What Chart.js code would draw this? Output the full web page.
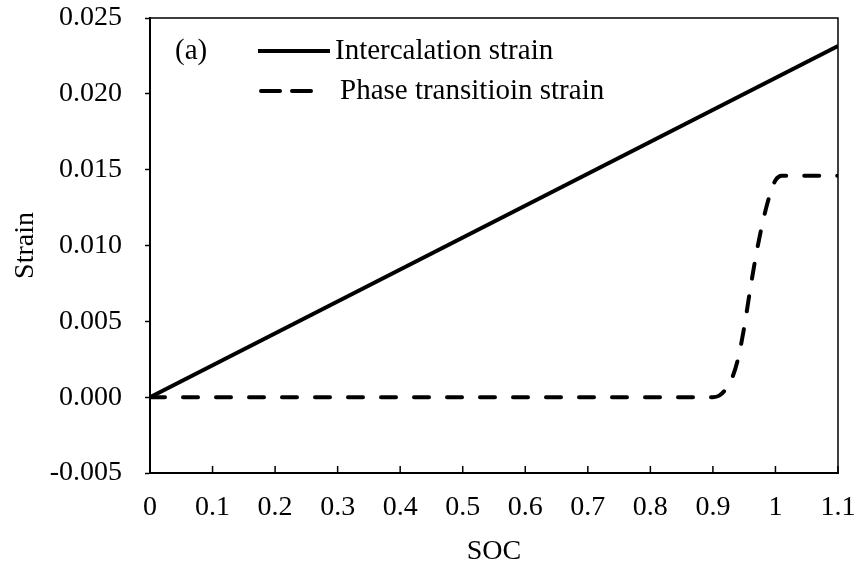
<!DOCTYPE html>
<html>
<head>
<meta charset="utf-8">
<script src="https://cdn.jsdelivr.net/npm/chart.js@4.4.1/dist/chart.umd.min.js"></script>
<style>
  html, body { margin: 0; padding: 0; background: #fff; }
  #wrap { width: 860px; height: 573px; }
</style>
</head>
<body>
<div id="wrap"><canvas id="strainChart" width="860" height="573"></canvas></div>
<script>
// ---- data ----
const intercSoc = [0, 1.1];
const intercStrain = [0, 0.02315];

const phaseSoc = [0, 0.90, 0.91, 0.92, 0.93, 0.94, 0.95, 0.96, 0.97, 0.98, 0.99, 1.00, 1.01, 1.10];
const phaseStrain = [0, 0, 0.0001, 0.0005, 0.0012, 0.0025, 0.0046, 0.0072, 0.0096, 0.0116, 0.0132, 0.0143, 0.0146, 0.0146];

const xTickValues = [0, 0.1, 0.2, 0.3, 0.4, 0.5, 0.6, 0.7, 0.8, 0.9, 1, 1.1];
const xTickLabels = ["0", "0.1", "0.2", "0.3", "0.4", "0.5", "0.6", "0.7", "0.8", "0.9", "1", "1.1"];
const yTickValues = [-0.005, 0, 0.005, 0.01, 0.015, 0.02, 0.025];
const yTickLabels = ["-0.005", "0.000", "0.005", "0.010", "0.015", "0.020", "0.025"];

const FONT = "'Liberation Serif', 'Times New Roman', serif";

function toPoints(xs, ys) {
    return xs.map(function (x, i) { return { x: x, y: ys[i] }; });
}

// frame, inward x ticks, and the in-plot legend
const framePlugin = {
    id: "frame",
    afterDraw: function (chart) {
        const ctx = chart.ctx;
        const a = chart.chartArea;
        const xs = chart.scales.x;
        ctx.save();
        ctx.strokeStyle = "#000";
        ctx.lineWidth = 1.5;
        ctx.beginPath();
        ctx.moveTo(a.left, a.top);
        ctx.lineTo(a.right, a.top);
        ctx.lineTo(a.right, a.bottom);
        ctx.stroke();

        // x ticks point into the plot
        xs.ticks.forEach(function (t) {
            const px = xs.getPixelForValue(t.value);
            ctx.beginPath();
            ctx.moveTo(px, a.bottom);
            ctx.lineTo(px, a.bottom - 7);
            ctx.stroke();
        });

        // legend
        ctx.fillStyle = "#000";
        ctx.font = "29px " + FONT;
        ctx.textBaseline = "middle";
        ctx.textAlign = "left";
        ctx.fillText("(a)", 175, 51);

        const ds = chart.data.datasets;
        ctx.lineWidth = 4;
        ctx.lineCap = "butt";
        ctx.setLineDash([]);
        ctx.beginPath();
        ctx.moveTo(258, 51);
        ctx.lineTo(330, 51);
        ctx.stroke();
        ctx.fillText(ds[0].label, 335, 51);

        ctx.lineCap = "round";
        ctx.setLineDash([19, 12]);
        ctx.beginPath();
        ctx.moveTo(261, 91);
        ctx.lineTo(311, 91);
        ctx.stroke();
        ctx.setLineDash([]);
        ctx.fillText(ds[1].label, 340, 91);
        ctx.restore();
    }
};

new Chart(document.getElementById("strainChart"), {
    type: "line",
    data: {
        datasets: [
            {
                label: "Intercalation strain",
                data: toPoints(intercSoc, intercStrain),
                borderColor: "#000",
                borderWidth: 4,
                pointRadius: 0,
                fill: false
            },
            {
                label: "Phase transitioin strain",
                data: toPoints(phaseSoc, phaseStrain),
                borderColor: "#000",
                borderWidth: 4,
                borderDash: [15, 18],
                borderCapStyle: "round",
                cubicInterpolationMode: "monotone",
                pointRadius: 0,
                fill: false
            }
        ]
    },
    options: {
        responsive: false,
        animation: false,
        events: [],
        layout: { padding: { top: 18, right: 22, left: 0, bottom: 0 } },
        plugins: {
            legend: { display: false },
            tooltip: { enabled: false }
        },
        scales: {
            x: {
                type: "linear",
                min: 0,
                max: 1.1,
                afterBuildTicks: function (scale) {
                    scale.ticks = xTickValues.map(function (v) { return { value: v }; });
                },
                afterFit: function (scale) {
                    scale.height = 100;
                    scale.paddingLeft = 0;
                    scale.paddingRight = 0;
                },
                ticks: {
                    color: "#000",
                    font: { family: FONT, size: 28 },
                    padding: 18,
                    maxRotation: 0,
                    autoSkip: false,
                    callback: function (v, i) { return xTickLabels[i]; }
                },
                grid: { display: false, drawTicks: false },
                border: { display: true, color: "#000", width: 2 },
                title: {
                    display: true,
                    text: "SOC",
                    color: "#000",
                    font: { family: FONT, size: 28 },
                    padding: { top: 0, bottom: 5 }
                }
            },
            y: {
                type: "linear",
                min: -0.005,
                max: 0.025,
                afterBuildTicks: function (scale) {
                    scale.ticks = yTickValues.map(function (v) { return { value: v }; });
                },
                afterFit: function (scale) {
                    scale.width = 150;
                    scale.paddingTop = 0;
                    scale.paddingBottom = 0;
                },
                ticks: {
                    color: "#000",
                    font: { family: FONT, size: 28 },
                    padding: 23,
                    autoSkip: false,
                    callback: function (v, i) { return yTickLabels[i]; }
                },
                grid: {
                    drawOnChartArea: false,
                    drawTicks: true,
                    tickLength: 5,
                    tickWidth: 1.5,
                    tickColor: "#000"
                },
                border: { display: true, color: "#000", width: 2 },
                title: {
                    display: true,
                    text: "Strain",
                    color: "#000",
                    font: { family: FONT, size: 28 },
                    padding: { top: 9, bottom: 0 }
                }
            }
        }
    },
    plugins: [framePlugin]
});
</script>
</body>
</html>
